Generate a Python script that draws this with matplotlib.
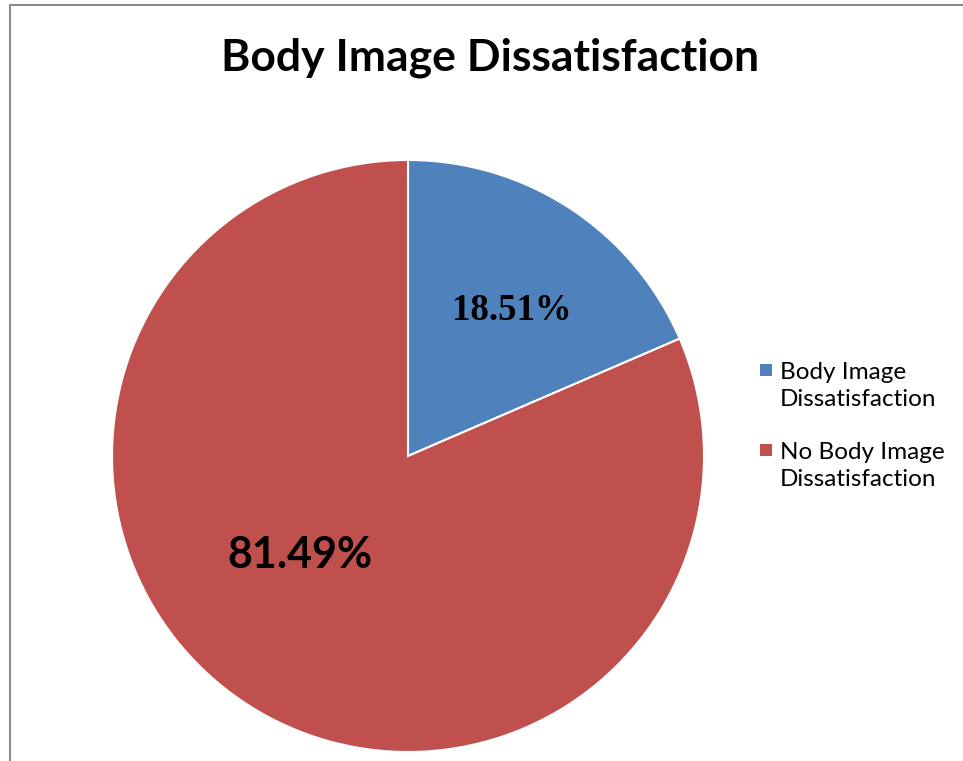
import matplotlib.pyplot as plt
from matplotlib.patches import Rectangle

labels = ['Body Image\nDissatisfaction', 'No Body Image\nDissatisfaction']
values = [18.51, 81.49]
pct_text = ['18.51%', '81.49%']
colors = ['#4F81BD', '#C0504D']

W, H = 963, 761
fig = plt.figure(figsize=(W / 100, H / 100), dpi=100)

# chart border (right and bottom cut off)
fig.patches.append(Rectangle((10 / W, -0.01), 1.0, 1 - 5 / H + 0.01,
                             transform=fig.transFigure, fill=False,
                             edgecolor='#8c8c8c', linewidth=1.5))

# pie: centre (408, 456), radius 296 px
cx, cy, r = 408, 456, 296
ax = fig.add_axes([(cx - r) / W, (H - cy - r) / H, 2 * r / W, 2 * r / H])
wedges, _ = ax.pie(values, colors=colors, startangle=90, counterclock=False,
                   wedgeprops=dict(edgecolor='white', linewidth=1.5))
ax.set_xlim(-1, 1)
ax.set_ylim(-1, 1)
ax.set_aspect('equal')

ax.text(0.35, 0.49, pct_text[0], fontsize=26.5, fontweight='bold',
        family='Liberation Serif', ha='center', va='center')
ax.text(-0.365, -0.334, pct_text[1], fontsize=31, fontweight='bold',
        family='Lato', ha='center', va='center')

fig.text(490 / W, 1 - 58 / H, 'Body Image Dissatisfaction', fontsize=32,
         fontweight='bold', family='Lato', ha='center', va='center')

# legend drawn by hand so the marker sits on the first line
for i, (lab, c) in enumerate(zip(labels, colors)):
    sq_y = 370 + 80 * i
    fig.patches.append(Rectangle((760 / W, 1 - (sq_y + 6) / H), 12 / W, 12 / H,
                                 transform=fig.transFigure, facecolor=c,
                                 edgecolor='none'))
    fig.text(780 / W, 1 - (sq_y + 16) / H, lab, fontsize=17.5, family='Lato',
             ha='left', va='center', linespacing=1.35)

fig.savefig('out.png', dpi=100)
